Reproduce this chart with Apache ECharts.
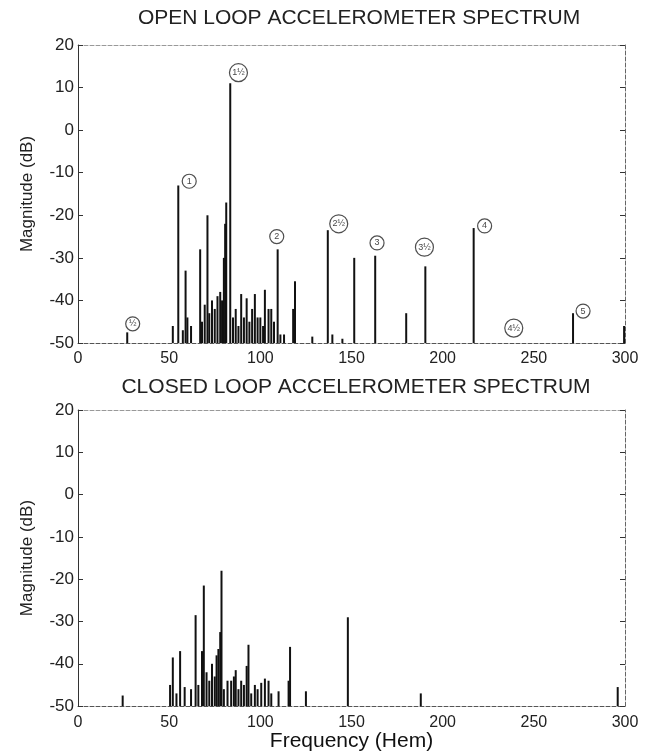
<!DOCTYPE html>
<html>
<head>
<meta charset="utf-8">
<script src="https://cdn.jsdelivr.net/npm/echarts@6/dist/echarts.min.js"></script>
<style>
  html, body { margin: 0; padding: 0; background: #fff; }
  #spectrumChart { width: 655px; height: 753px; }
</style>
</head>
<body>
<div id="spectrumChart"></div>
<script>
// open loop spectrum lines (Hz, dB)
const openFreq = [27, 52, 55, 57.5, 59, 60, 62, 67, 68, 69.5, 71, 72, 73.5, 75, 76.5, 78, 79, 80, 80.7, 81.3,
  83.5, 85, 86.5, 88, 89.5, 91, 92.5, 94, 95.5, 97, 98.5, 100, 101.5, 102.5, 104.5, 106, 107.5, 109.5, 111, 113,
  118, 119, 128.5, 137, 139.5, 145, 151.5, 163, 180, 190.5, 217, 271.5, 299.5];
const openMag = [-47.5, -46, -13, -47, -33, -44, -46, -28, -45, -41, -20, -43, -40, -42, -39, -38, -40, -30, -22, -17,
  11, -44, -42, -46, -38.5, -44, -39.5, -45, -42, -38.5, -44, -44, -46, -37.5, -42, -42, -45, -28, -48, -48,
  -42, -35.5, -48.5, -23.5, -48, -49, -30, -29.5, -43, -32, -23, -43, -46];

// harmonic markers on the open loop plot
const harmonicText = ['½', '1', '1½', '2', '2½', '3', '3½', '4', '4½', '5'];
const harmonicFreq = [30, 61, 88, 109, 143, 164, 190, 223, 239, 277];
const harmonicMag = [-45.5, -12, 13.5, -25, -22, -26.5, -27.5, -22.5, -46.5, -42.5];

// closed loop spectrum lines (Hz, dB)
const closedFreq = [24.5, 50.5, 52, 54, 56, 58.5, 62, 64.5, 66, 68, 69, 70.5, 72, 73.5, 75, 76, 77, 78, 78.7,
  80, 82, 84, 85.5, 86.5, 88, 89.5, 91, 92.5, 93.5, 95, 97, 98.5, 100.5, 102.5, 104.5, 106, 110, 115.5, 116.3,
  125, 148, 188, 296];
const closedMag = [-47.5, -45, -38.5, -47, -37, -45.5, -46, -28.5, -45, -37, -21.5, -42, -44, -40, -43, -38, -36.5, -32.5, -18,
  -46, -44, -44, -43, -41.5, -46, -44, -45, -40.5, -35.5, -47, -45, -46, -44.5, -43.5, -44, -47, -46.5, -44, -36,
  -46.5, -29, -47, -45.5];

const yMin = -50;
const yMax = 20;

const spectrumChart = echarts.init(document.getElementById('spectrumChart'));
spectrumChart.setOption(spectrumOption());

function pairs(xs, ys) {
  return xs.map((x, i) => [x, ys[i]]);
}

// vertical line from the bottom of the plot up to the level
function stemItem(params, api) {
  const top = api.coord([api.value(0), api.value(1)]);
  const base = api.coord([api.value(0), yMin]);
  return {
    type: 'line',
    shape: { x1: top[0], y1: top[1], x2: base[0], y2: base[1] },
    style: { stroke: '#111', lineWidth: 2 }
  };
}

function bottomAxis(gridIndex, showName) {
  return {
    type: 'value',
    gridIndex: gridIndex,
    min: 0,
    max: 300,
    interval: 50,
    name: showName ? 'Frequency (Hem)' : '',
    nameLocation: 'middle',
    nameGap: 22,
    nameTextStyle: { color: '#111', fontSize: 21, fontFamily: 'Liberation Sans' },
    axisLine: { show: true, onZero: false, lineStyle: { color: '#555', type: 'dashed' } },
    axisTick: { show: false },
    axisLabel: { color: '#222', fontSize: 16, margin: 8, fontFamily: 'Liberation Sans' },
    splitLine: { show: false }
  };
}

function topAxis(gridIndex) {
  return {
    type: 'value',
    gridIndex: gridIndex,
    position: 'top',
    min: 0,
    max: 300,
    interval: 50,
    axisLine: { show: true, onZero: false, lineStyle: { color: '#999', type: 'dashed' } },
    axisTick: { show: false },
    axisLabel: { show: false },
    splitLine: { show: false }
  };
}

function leftAxis(gridIndex) {
  return {
    type: 'value',
    gridIndex: gridIndex,
    min: yMin,
    max: yMax,
    interval: 10,
    name: 'Magnitude (dB)',
    nameLocation: 'middle',
    nameGap: 42,
    nameTextStyle: { color: '#222', fontSize: 17, fontFamily: 'Liberation Sans' },
    axisLine: { show: true, onZero: false, lineStyle: { color: '#333' } },
    axisTick: { show: true, inside: true, length: 5, lineStyle: { color: '#333' } },
    axisLabel: { color: '#222', fontSize: 17, margin: 4, fontFamily: 'Liberation Sans' },
    splitLine: { show: false }
  };
}

function rightAxis(gridIndex) {
  return {
    type: 'value',
    gridIndex: gridIndex,
    position: 'right',
    min: yMin,
    max: yMax,
    interval: 10,
    axisLine: { show: true, onZero: false, lineStyle: { color: '#666', type: 'dashed' } },
    axisTick: { show: true, inside: true, length: 5, lineStyle: { color: '#333' } },
    axisLabel: { show: false },
    splitLine: { show: false }
  };
}

function spectrumOption() {
  return {
    backgroundColor: '#fff',
    animation: false,
    title: [
      {
        text: 'OPEN LOOP ACCELEROMETER SPECTRUM',
        left: 354,
        top: 3,
        textAlign: 'center',
        textStyle: { color: '#222', fontSize: 21, fontWeight: 'normal', fontFamily: 'Liberation Sans' }
      },
      {
        text: 'CLOSED LOOP ACCELEROMETER SPECTRUM',
        left: 351,
        top: 372,
        textAlign: 'center',
        textStyle: { color: '#222', fontSize: 21, fontWeight: 'normal', fontFamily: 'Liberation Sans' }
      }
    ],
    grid: [
      { left: 78, right: 30, top: 45, height: 298 },
      { left: 78, right: 30, top: 410, height: 297 }
    ],
    xAxis: [bottomAxis(0, false), topAxis(0), bottomAxis(1, true), topAxis(1)],
    yAxis: [leftAxis(0), rightAxis(0), leftAxis(1), rightAxis(1)],
    series: [
      {
        name: 'open loop',
        type: 'custom',
        xAxisIndex: 0,
        yAxisIndex: 0,
        renderItem: stemItem,
        data: pairs(openFreq, openMag)
      },
      {
        name: 'harmonics',
        type: 'scatter',
        xAxisIndex: 0,
        yAxisIndex: 0,
        symbol: 'circle',
        symbolSize: function (val, params) {
          return harmonicText[params.dataIndex].length > 1 ? 18 : 14;
        },
        itemStyle: { color: 'rgba(0,0,0,0)', borderColor: '#222', borderWidth: 1.2 },
        label: {
          show: true,
          position: 'inside',
          color: '#111',
          fontSize: 9,
          formatter: function (p) {
            return harmonicText[p.dataIndex];
          }
        },
        data: pairs(harmonicFreq, harmonicMag)
      },
      {
        name: 'closed loop',
        type: 'custom',
        xAxisIndex: 2,
        yAxisIndex: 2,
        renderItem: stemItem,
        data: pairs(closedFreq, closedMag)
      }
    ]
  };
}
</script>
</body>
</html>
